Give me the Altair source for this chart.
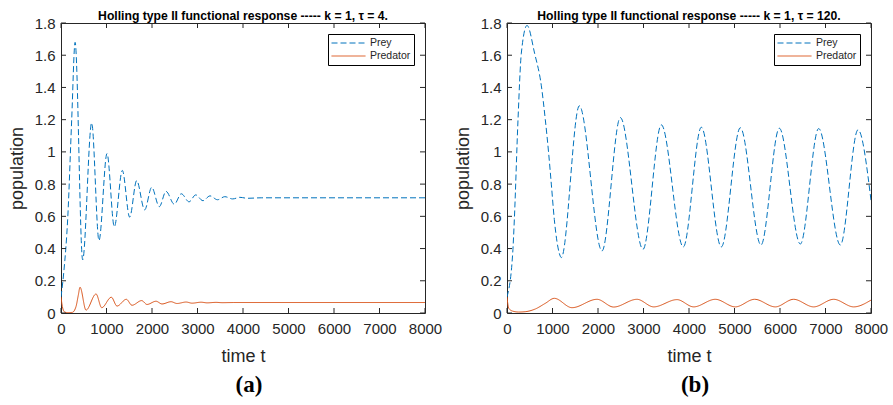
import altair as alt
import pandas as pd

W, H = 364, 290

x_ticks = [0, 1000, 2000, 3000, 4000, 5000, 6000, 7000, 8000]
y_ticks = [0, 0.2, 0.4, 0.6, 0.8, 1.0, 1.2, 1.4, 1.6, 1.8]
series_names = ["Prey", "Predator"]
series_colors = ["#0072BD", "#D95319"]

# ---- panel (a): tau = 4 ----
a_prey_t = [0, 60, 150, 235, 310, 476, 674, 835, 1011, 1172, 1348, 1509, 1663, 1839,
            1993, 2161, 2308, 2490, 2644, 2815, 2960, 3120, 3275, 3440, 3600, 3773,
            3930, 4100, 4400, 8000]
a_prey_v = [0.10, 0.25, 0.60, 1.20, 1.68, 0.33, 1.18, 0.45, 0.99, 0.535, 0.885, 0.595,
            0.822, 0.64, 0.78, 0.66, 0.755, 0.675, 0.74, 0.69, 0.733, 0.697, 0.727,
            0.703, 0.722, 0.708, 0.718, 0.712, 0.715, 0.715]
a_pred_t = [0, 30, 80, 150, 250, 330, 380, 418, 550, 770, 895, 1106, 1231, 1436, 1560,
            1773, 1890, 2088, 2220, 2418, 2550, 2750, 2880, 3080, 3210, 3410, 3540,
            3800, 8000]
a_pred_v = [0.10, 0.04, 0.006, 0.002, 0.004, 0.04, 0.11, 0.16, 0.018, 0.118, 0.033,
            0.098, 0.043, 0.085, 0.048, 0.077, 0.053, 0.073, 0.056, 0.070, 0.059, 0.068,
            0.061, 0.067, 0.063, 0.066, 0.064, 0.065, 0.065]

# ---- panel (b): tau = 120 ----
b_prey_t = [0, 125, 161, 242, 315, 440, 608, 755, 842, 916, 974, 1040, 1150, 1194, 1590,
            2088, 2491, 2989, 3392, 3875, 4271, 4710, 5128, 5582, 5985, 6447, 6850,
            7326, 7714, 8000]
b_prey_v = [0.10, 0.37, 0.578, 1.20, 1.613, 1.785, 1.61, 1.41, 1.20, 0.99, 0.80, 0.58,
            0.37, 0.344, 1.286, 0.385, 1.213, 0.395, 1.168, 0.41, 1.153, 0.41, 1.15,
            0.422, 1.147, 0.428, 1.145, 0.422, 1.137, 0.70]
b_pred_t = [0, 37, 120, 257, 400, 623, 842, 1040, 1429, 1978, 2344, 2857, 3224, 3736,
            4103, 4578, 5018, 5443, 5897, 6300, 6740, 7180, 7620, 8000]
b_pred_v = [0.10, 0.03, 0.012, 0.006, 0.008, 0.025, 0.06, 0.091, 0.033, 0.085, 0.037,
            0.085, 0.038, 0.083, 0.038, 0.085, 0.038, 0.085, 0.038, 0.085, 0.038,
            0.085, 0.038, 0.080]

titles = ["Holling type II functional response ----- k = 1, \u03c4 = 4.",
          "Holling type II functional response ----- k = 1, \u03c4 = 120."]
labels = ["(a)", "(b)"]

AXC = "#262626"
FONT = "Liberation Sans"


def panel(prey_t, prey_v, pred_t, pred_v, title, label):
    df = pd.concat([
        pd.DataFrame({"t": prey_t, "v": prey_v, "series": "Prey"}),
        pd.DataFrame({"t": pred_t, "v": pred_v, "series": "Predator"}),
    ])
    x_enc = alt.X("t:Q", scale=alt.Scale(domain=[0, 8000], nice=False, zero=False),
                  axis=alt.Axis(values=x_ticks, format="d", title="time t",
                                labelFlush=False, labelOverlap=False,
                                labelPadding=8, titlePadding=11))
    y_enc = alt.Y("v:Q", scale=alt.Scale(domain=[0, 1.8], nice=False, zero=False),
                  axis=alt.Axis(values=y_ticks, format="~g", title="population",
                                labelOverlap=False, labelPadding=6, titlePadding=8))
    leg = alt.Legend(title=None, orient="top-right", offset=11)
    lines = alt.Chart(df).mark_line(strokeWidth=1, interpolate="monotone", clip=True).encode(
        x=x_enc,
        y=y_enc,
        color=alt.Color("series:N", scale=alt.Scale(domain=series_names, range=series_colors),
                        legend=leg),
        strokeDash=alt.StrokeDash("series:N",
                                  scale=alt.Scale(domain=series_names, range=[[6, 3], [1, 0]]),
                                  legend=leg),
        detail="series:N",
    )
    xt = pd.DataFrame({"t": x_ticks})
    yt = pd.DataFrame({"v": y_ticks})
    tick_bot = alt.Chart(xt).mark_rule(color=AXC, strokeWidth=1).encode(
        x=x_enc, y=alt.value(H), y2=alt.value(H - 5))
    tick_top = alt.Chart(xt).mark_rule(color=AXC, strokeWidth=1).encode(
        x=x_enc, y=alt.value(0), y2=alt.value(5))
    tick_left = alt.Chart(yt).mark_rule(color=AXC, strokeWidth=1).encode(
        y=y_enc, x=alt.value(0), x2=alt.value(5))
    tick_right = alt.Chart(yt).mark_rule(color=AXC, strokeWidth=1).encode(
        y=y_enc, x=alt.value(W), x2=alt.value(W - 5))
    lab = alt.Chart(pd.DataFrame({"lab": [label]})).mark_text(
        font="Liberation Serif", fontSize=23, fontWeight="bold", color="black",
        align="center", baseline="middle").encode(
        text="lab:N", x=alt.value(W / 2 + 6), y=alt.value(H + 72))
    return alt.layer(lines, tick_bot, tick_top, tick_left, tick_right, lab).properties(
        width=W, height=H,
        title=alt.TitleParams(text=title, fontSize=12.2, fontWeight="bold", font=FONT,
                              color="black", anchor="middle", offset=-6),
    )


pa = panel(a_prey_t, a_prey_v, a_pred_t, a_pred_v, titles[0], labels[0])
pb = panel(b_prey_t, b_prey_v, b_pred_t, b_pred_v, titles[1], labels[1])

chart = alt.hconcat(pa, pb, spacing=10).resolve_scale(
    color="independent", strokeDash="independent"
).resolve_legend(
    color="independent", strokeDash="independent"
).properties(
    padding={"left": 7, "top": 9, "right": 0, "bottom": 0},
    background="white",
).configure_view(
    stroke=AXC, strokeWidth=1,
).configure_axis(
    domain=False, ticks=False, grid=False,
    labelFont=FONT, labelFontSize=15, labelColor=AXC,
    titleFont=FONT, titleFontSize=18, titleColor=AXC, titleFontWeight="normal",
).configure_legend(
    padding=3, strokeColor="black", fillColor="white",
    labelFont=FONT, labelFontSize=10.5, labelColor=AXC, symbolType="stroke",
    symbolSize=1156, symbolStrokeWidth=1, rowPadding=1, labelOffset=4, cornerRadius=0,
    clipHeight=12,
)

chart.save("out.html", embed_options={"renderer": "svg", "actions": False})
